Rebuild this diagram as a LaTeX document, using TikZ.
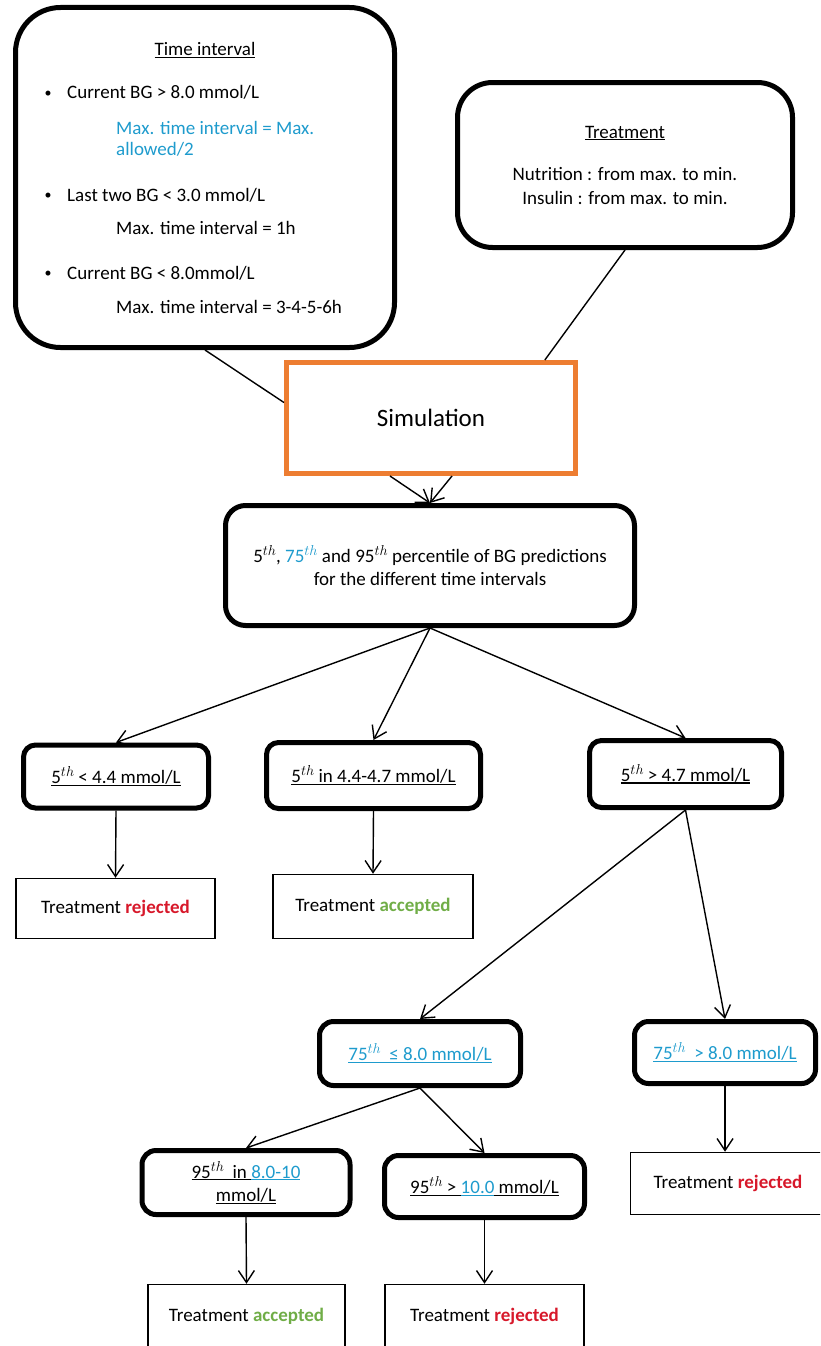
\documentclass[tikz,border=0pt]{standalone}
\usepackage{fontspec}
\setmainfont{Carlito}
\usetikzlibrary{arrows.meta,calc}
\definecolor{cblue}{HTML}{1E9BCD}
\definecolor{cred}{HTML}{D7182A}
\definecolor{cgreen}{HTML}{70AD47}
\definecolor{corange}{HTML}{ED7D31}
\newcommand\ulx[1]{\setbox0=\hbox{#1}\rlap{\rule[-2.4pt]{\wd0}{1.3pt}}\box0}
\newcommand\sth{\raisebox{7pt}{\fontsize{14}{14}\selectfont$th$}}
\begin{document}
\begin{tikzpicture}[x=1pt,y=-1pt,
  every node/.style={font=\fontsize{19}{23.5}\selectfont, inner sep=0pt},
  rbox/.style={draw, line width=5pt, rounded corners=14pt, align=center},
  pbox/.style={draw, line width=1.5pt, align=center},
  conn/.style={line width=1.4pt},
  arr/.style={conn, -{Straight Barb[length=12pt,width=16pt]}},
  tline/.style={anchor=base west},
  bullet/.style={anchor=base, font=\fontsize{14}{14}\selectfont}]
\useasboundingbox (0,0) rectangle (820,1346);
\clip (0,0) rectangle (820,1346);

% top boxes
\node[rbox, rounded corners=45pt, minimum width=379pt, minimum height=340pt] (tbox) at (205,177.5) {};
\node[anchor=base] (ttitle) at (205,56) {\ulx{Time interval}};
\node[bullet] (bul1) at (48,97) {•};
\node[tline] (t1) at (67,99) {Current BG > 8.0 mmol/L};
\node[tline, text=cblue] (t2) at (116,134) {Max. time interval = Max.};
\node[tline, text=cblue] (t3) at (116,155) {allowed/2};
\node[bullet] (bul2) at (48,199) {•};
\node[tline] (t4) at (67,201) {Last two BG < 3.0 mmol/L};
\node[tline] (t5) at (116,234) {Max. time interval = 1h};
\node[bullet] (bul3) at (48,277) {•};
\node[tline] (t6) at (67,279) {Current BG < 8.0mmol/L};
\node[tline] (t7) at (116,313) {Max. time interval = 3-4-5-6h};

\node[rbox, rounded corners=35pt, minimum width=335pt, minimum height=165pt] (treat) at (625,165)
  {\ulx{Treatment}\\[19pt]Nutrition : from max. to min.\\Insulin : from max. to min.};

\node[draw=corange, line width=5pt, minimum width=289pt, minimum height=111pt,
  font=\fontsize{25}{30}\selectfont] (sim) at (431,418) {Simulation};

\node[rbox, rounded corners=20pt, minimum width=409pt, minimum height=120pt] (pct) at (430,565.5)
  {5\sth, {\color{cblue}75\sth} and 95\sth{} percentile of BG predictions\\for the different time intervals};

% middle row
\node[rbox, rounded corners=12pt, minimum width=185pt, minimum height=63pt] (lowA) at (116,776.5) {\ulx{5\sth{} < 4.4 mmol/L}};
\node[rbox, rounded corners=12pt, minimum width=214pt, minimum height=66pt] (lowB) at (373.5,775.5) {\ulx{5\sth{} in 4.4-4.7 mmol/L}};
\node[rbox, rounded corners=12pt, minimum width=192pt, minimum height=67pt] (lowC) at (685.5,774) {\ulx{5\sth{} > 4.7 mmol/L}};

\node[pbox, minimum width=199pt, minimum height=60pt] (rej1) at (115.5,908.5) {Treatment \textcolor{cred}{\textbf{rejected}}};
\node[pbox, minimum width=200pt, minimum height=64pt] (acc1) at (373,906.5) {Treatment \textcolor{cgreen}{\textbf{accepted}}};

\node[rbox, minimum width=201pt, minimum height=64pt] (L75) at (420,1053.5) {\color{cblue}\ulx{75\sth\ \ ≤ 8.0 mmol/L}};
\node[rbox, minimum width=181pt, minimum height=62pt] (G75) at (725,1052.5) {\color{cblue}\ulx{75\sth\ \ > 8.0 mmol/L}};
\node[pbox, minimum width=195pt, minimum height=62pt] (rej2) at (728,1183.5) {Treatment \textcolor{cred}{\textbf{rejected}}};

\node[rbox, minimum width=208pt, minimum height=64pt] (n95a) at (246,1182.5)
  {\ulx{95\sth\ \ in\ }{\color{cblue}\ulx{8.0-10}}\\\ulx{mmol/L}};
\node[rbox, minimum width=200pt, minimum height=62pt] (n95b) at (484.5,1186.5)
  {\ulx{95\sth{} >\ }{\color{cblue}\ulx{10.0}}\ulx{\ mmol/L}};

\node[pbox, minimum width=197pt, minimum height=64pt] (accB) at (246.5,1316.5) {Treatment \textcolor{cgreen}{\textbf{accepted}}};
\node[pbox, minimum width=199pt, minimum height=64pt] (rejB) at (484.5,1316.5) {Treatment \textcolor{cred}{\textbf{rejected}}};

% connectors
\draw[conn] (tbox.south) -- (sim.174);
\draw[conn] (treat.south) -- (sim.27);
\draw[arr] ($(sim.south)+(-41,0)$) -- (pct.north);
\draw[arr] ($(sim.south)+(21,0)$) -- (pct.north);
\draw[arr] (pct.south) -- (lowA.north);
\draw[arr] (pct.south) -- (lowB.north);
\draw[arr] (pct.south) -- (lowC.north);
\draw[arr] (lowA.south) -- (rej1.north);
\draw[arr] (lowB.south) -- (acc1.north);
\draw[arr] (lowC.south) -- (L75.north);
\draw[arr] (lowC.south) -- (G75.north);
\draw[arr] (G75.south) -- (G75.south |- rej2.north);
\draw[arr] (L75.south) -- (n95a.north);
\draw[arr] (L75.south) -- (n95b.north);
\draw[arr] (n95a.south) -- (accB.north);
\draw[arr] (n95b.south) -- (rejB.north);
\end{tikzpicture}
\end{document}
